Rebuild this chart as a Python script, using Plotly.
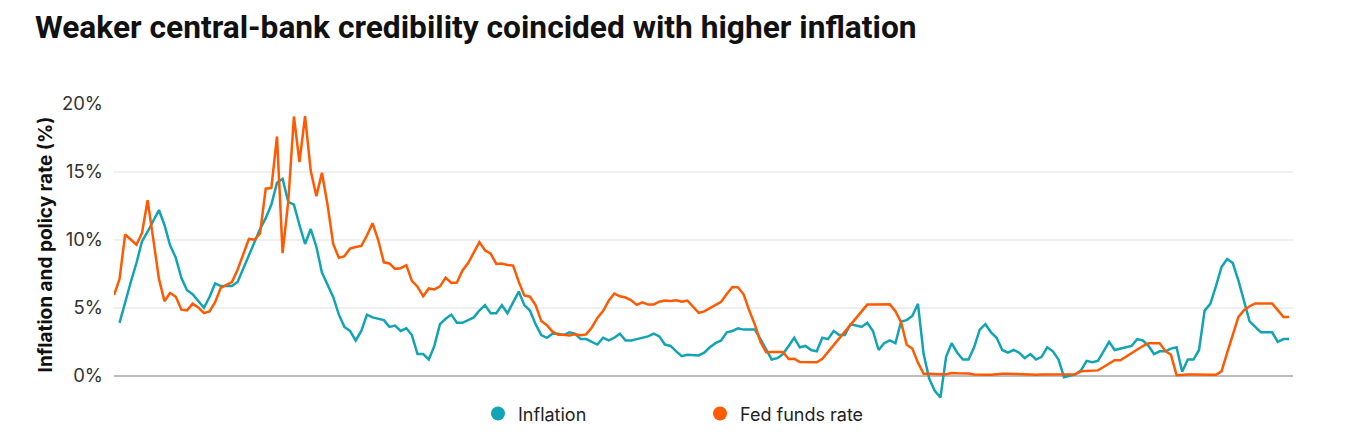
import plotly.graph_objects as go
import pandas as pd

# Fed funds rate (%), first month of each quarter, Jan 1973 .. Apr 2025
fed_funds = [
    5.94, 7.12, 10.40, 10.01,
    9.65, 10.51, 12.92, 10.06,
    7.13, 5.49, 6.10, 5.82,
    4.87, 4.82, 5.31, 5.03,
    4.61, 4.73, 5.42, 6.47,
    6.70, 6.90, 7.81, 8.96,
    10.07, 10.01, 10.47, 13.77,
    13.82, 17.61, 9.03, 12.81,
    19.08, 15.72, 19.10, 15.08,
    13.22, 14.94, 12.59, 9.71,
    8.68, 8.80, 9.37, 9.48,
    9.56, 10.32, 11.23, 9.99,
    8.35, 8.27, 7.87, 7.92,
    8.14, 6.99, 6.56, 5.85,
    6.43, 6.36, 6.58, 7.22,
    6.83, 6.87, 7.75, 8.30,
    9.12, 9.84, 9.24, 8.99,
    8.23, 8.26, 8.15, 8.11,
    6.91, 5.91, 5.82, 5.21,
    4.03, 3.73, 3.25, 3.02,
    3.02, 2.96, 3.06, 2.99,
    3.05, 3.56, 4.26, 4.76,
    5.53, 6.05, 5.85, 5.76,
    5.56, 5.22, 5.40, 5.24,
    5.25, 5.45, 5.54, 5.50,
    5.56, 5.45, 5.54, 5.07,
    4.63, 4.74, 4.99, 5.20,
    5.45, 6.02, 6.54, 6.51,
    5.98, 4.80, 3.77, 2.49,
    1.73, 1.75, 1.73, 1.75,
    1.24, 1.26, 1.01, 1.01,
    1.00, 1.00, 1.26, 1.76,
    2.28, 2.79, 3.26, 3.78,
    4.29, 4.79, 5.24, 5.25,
    5.25, 5.25, 5.26, 4.76,
    3.94, 2.28, 2.01, 0.97,
    0.15, 0.15, 0.16, 0.12,
    0.11, 0.20, 0.18, 0.19,
    0.17, 0.10, 0.07, 0.07,
    0.08, 0.14, 0.16, 0.16,
    0.14, 0.15, 0.09, 0.09,
    0.07, 0.09, 0.09, 0.09,
    0.11, 0.12, 0.13, 0.12,
    0.34, 0.37, 0.39, 0.40,
    0.65, 0.90, 1.15, 1.15,
    1.41, 1.69, 1.91, 2.19,
    2.40, 2.42, 2.40, 1.83,
    1.55, 0.05, 0.09, 0.09,
    0.09, 0.07, 0.10, 0.08,
    0.08, 0.33, 1.68, 3.08,
    4.33, 4.83, 5.12, 5.33,
    5.33, 5.33, 5.33, 4.83,
    4.33, 4.33,
]

# Inflation (%), year-over-year, plotted at quarter end: Apr 1973 .. Apr 2025
inflation = [
    3.9, 5.5, 6.9, 8.3,
    9.9, 10.6, 11.4, 12.2,
    11.1, 9.6, 8.7, 7.2,
    6.3, 6.0, 5.5, 5.0,
    5.8, 6.8, 6.6, 6.6,
    6.6, 6.9, 7.9, 8.9,
    9.9, 10.8, 11.6, 12.6,
    14.2, 14.5, 12.8, 12.6,
    11.1, 9.7, 10.8, 9.5,
    7.6, 6.7, 5.8, 4.5,
    3.6, 3.3, 2.6, 3.3,
    4.5, 4.3, 4.2, 4.1,
    3.6, 3.7, 3.3, 3.5,
    3.0, 1.6, 1.6, 1.2,
    2.2, 3.8, 4.2, 4.5,
    3.9, 3.9, 4.1, 4.3,
    4.8, 5.2, 4.6, 4.6,
    5.2, 4.6, 5.4, 6.2,
    5.2, 4.8, 3.8, 3.0,
    2.8, 3.1, 3.1, 3.0,
    3.2, 3.1, 2.7, 2.7,
    2.5, 2.3, 2.8, 2.6,
    2.8, 3.1, 2.6, 2.6,
    2.7, 2.8, 2.9, 3.1,
    2.9, 2.3, 2.2, 1.8,
    1.45, 1.55, 1.55, 1.5,
    1.7, 2.1, 2.4, 2.6,
    3.2, 3.3, 3.5, 3.4,
    3.4, 3.4, 2.7, 1.9,
    1.2, 1.3, 1.6, 2.2,
    2.8, 2.1, 2.2, 1.9,
    1.8, 2.8, 2.7, 3.3,
    3.0, 3.0, 3.8, 3.7,
    3.6, 3.9, 3.3, 1.9,
    2.4, 2.6, 2.4, 4.0,
    4.1, 4.4, 5.3, 1.6,
    -0.2, -1.1, -1.6, 1.4,
    2.4, 1.7, 1.2, 1.2,
    2.1, 3.4, 3.8, 3.2,
    2.8, 1.9, 1.7, 1.9,
    1.7, 1.3, 1.6, 1.2,
    1.4, 2.1, 1.8, 1.2,
    -0.1, 0.0, 0.1, 0.4,
    1.1, 1.0, 1.1, 1.8,
    2.5, 1.9, 2.0, 2.1,
    2.2, 2.7, 2.6, 2.2,
    1.6, 1.8, 1.8, 2.0,
    2.1, 0.3, 1.2, 1.2,
    1.9, 4.8, 5.3, 6.6,
    8.0, 8.6, 8.3, 7.0,
    5.6, 4.0, 3.6, 3.2,
    3.2, 3.2, 2.5, 2.7,
    2.7,
]

fed_funds_dates = pd.date_range("1973-01-01", periods=len(fed_funds), freq="QS")
inflation_dates = pd.date_range("1973-04-01", periods=len(inflation), freq="QS")

y_ticks = [0, 5, 10, 15, 20]
y_tick_labels = ["0%", "5%", "10%", "15%", "20%"]

TEAL = "#12A4B4"
ORANGE = "#FF5A00"
FONT = "Inter, Roboto, sans-serif"

# plot area geometry (page has an 8px body offset)
OFF = 8
L, T, PLOT_W, PLOT_H = 106, 96, 1179, 299.2
B = 433 - T - PLOT_H
R = 1354 - L - PLOT_W

fig = go.Figure()
fig.add_trace(go.Scatter(x=inflation_dates, y=inflation, mode="lines",
                         line=dict(color=TEAL, width=2.5), showlegend=False,
                         name="Inflation"))
fig.add_trace(go.Scatter(x=fed_funds_dates, y=fed_funds, mode="lines",
                         line=dict(color=ORANGE, width=2.5), showlegend=False,
                         name="Fed funds rate"))
# legend entries (circle markers)
fig.add_trace(go.Scatter(x=[None], y=[None], mode="markers",
                         marker=dict(color=TEAL, size=14), name="Inflation"))
fig.add_trace(go.Scatter(x=[None], y=[None], mode="markers",
                         marker=dict(color=ORANGE, size=14), name="Fed funds rate"))

fig.update_layout(
    width=1354, height=433,
    margin=dict(l=L, r=R, t=T, b=B, autoexpand=False),
    paper_bgcolor="white", plot_bgcolor="white",
    font=dict(family=FONT, color="#222222"),
    title=dict(text="<b>Weaker central-bank credibility coincided with higher inflation</b>",
               xref="container", yref="container", x=(35 - OFF)/1354, xanchor="left",
               y=1 - (27 - OFF)/433, yanchor="middle",
               font=dict(family="Roboto, sans-serif", size=31.7, color="#111111")),
    showlegend=True,
    legend=dict(orientation="h", x=(470 - L)/PLOT_W, xanchor="left",
                y=-(414 - OFF - (T + PLOT_H))/PLOT_H, yanchor="middle",
                entrywidth=177, entrywidthmode="pixels",
                font=dict(family=FONT, size=18, color="#222222"),
                itemsizing="trace", bgcolor="rgba(0,0,0,0)"),
    xaxis=dict(range=["1973-01-01", "2025-06-05"], showticklabels=False,
               showgrid=False, zeroline=False, showline=False, ticks=""),
    yaxis=dict(range=[-2, 20], tickvals=y_ticks, ticktext=y_tick_labels,
               showgrid=True, gridcolor="#EFEFEF", gridwidth=1.5,
               zeroline=True, zerolinecolor="#BDBDBD", zerolinewidth=2,
               showline=False, ticks="", ticklabelstandoff=10,
               tickfont=dict(family=FONT, size=18.5, color="#333333")),
    annotations=[dict(text="<b>Inflation and policy rate (%)</b>", textangle=-90,
                      xref="paper", yref="paper", x=(45 - OFF - L)/PLOT_W,
                      y=(T + PLOT_H - (244.5 - OFF))/PLOT_H,
                      xanchor="center", yanchor="middle", showarrow=False,
                      font=dict(family=FONT, size=19, color="#111111"))],
)

fig.write_html("out.html")
